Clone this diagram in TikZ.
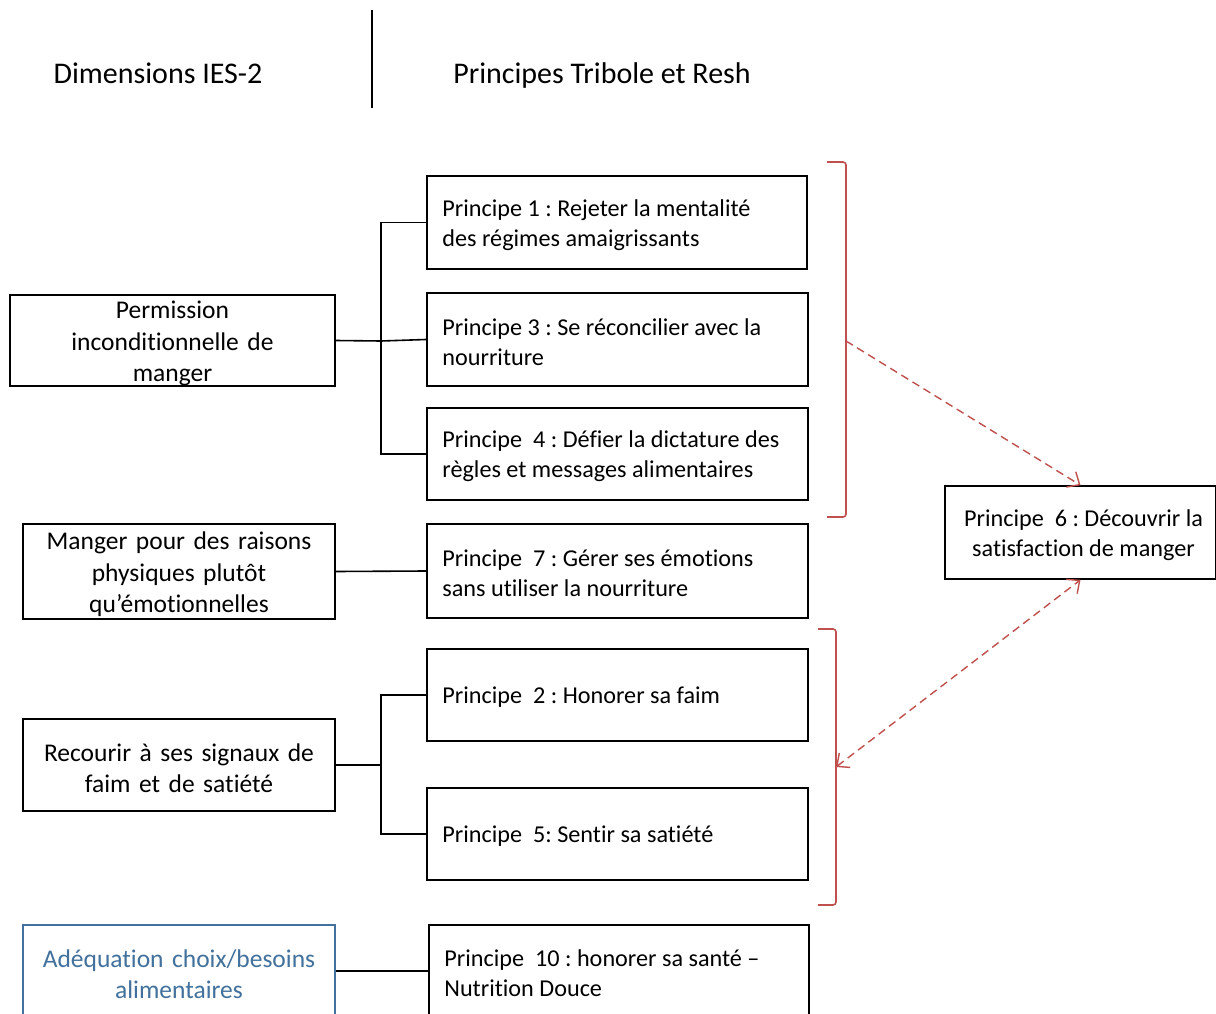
\documentclass[tikz,border=0pt]{standalone}
\usepackage{fontspec}
\setmainfont{Carlito}[RawFeature=-liga]
\usetikzlibrary{arrows.meta}
\definecolor{bred}{RGB}{192,80,77}
\definecolor{oblue}{RGB}{65,113,156}
\begin{document}
\frenchspacing
\begin{tikzpicture}[x=1pt,y=-1pt,
  box/.style={draw, line width=1.6pt, inner sep=0pt},
  ltext/.style={align=center, text width=300pt, inner sep=0pt, yshift=-3pt,
    font=\frenchspacing\fontsize{25.5}{31.5}\selectfont},
  rtext/.style={align=left, inner sep=0pt, yshift=-2.5pt, anchor=west,
    font=\frenchspacing\fontsize{24.2}{30}\selectfont},
  head/.style={font=\fontsize{30}{36}\selectfont, anchor=base},
  link/.style={line width=1.6pt},
  brk/.style={draw=bred, line width=1.6pt, rounded corners=3pt},
  tip/.tip={Straight Barb[length=10pt,width=18pt,line width=1.4pt]},
  darr/.style={draw=bred, line width=1.4pt, dash pattern=on 8pt off 5pt, -tip}
]
\clip (0,0) rectangle (1216,1014);
\fill[white] (0,0) rectangle (1216,1014);

% headers
\node[head] (h1) at (158,84) {Dimensions IES-2};
\node[head] (h2) at (602,84) {Principes Tribole et Resh};
\coordinate (s1) at (372,10);
\coordinate (s2) at (372,108);
\draw[link] (s1) -- (s2);

% left boxes
\node[box, minimum width=325pt, minimum height=91pt] (perm) at (172.5,340.5) {};
\node[ltext] (perm-t) at (perm.center) {Permission\\inconditionnelle de\\manger};
\node[box, minimum width=312pt, minimum height=95pt] (emo) at (179,571.5) {};
\node[ltext] (emo-t) at (emo.center) {Manger pour des raisons\\physiques plutôt\\qu’émotionnelles};
\node[box, minimum width=312pt, minimum height=92pt] (faim) at (179,765) {};
\node[ltext] (faim-t) at (faim.center) {Recourir à ses signaux de\\faim et de satiété};
\node[box, draw=oblue, minimum width=312pt, minimum height=92pt] (adeq) at (179,971) {};
\node[ltext, text=oblue] (adeq-t) at (adeq.center) {Adéquation choix/besoins\\alimentaires};

% right boxes
\node[box, minimum width=380pt, minimum height=93pt] (p1) at (617,222.5) {};
\node[rtext] (p1-t) at ([xshift=16pt]p1.west) {Principe 1 : Rejeter la mentalité\\des régimes amaigrissants};
\node[box, minimum width=381pt, minimum height=93pt] (p3) at (617.5,339.5) {};
\node[rtext] (p3-t) at ([xshift=16pt]p3.west) {Principe 3 : Se réconcilier avec la\\nourriture};
\node[box, minimum width=381pt, minimum height=92pt] (p4) at (617.5,454) {};
\node[rtext] (p4-t) at ([xshift=16pt]p4.west) {Principe\ \ 4 : Défier la dictature des\\règles et messages alimentaires};
\node[box, minimum width=381pt, minimum height=94pt] (p7) at (617.5,571) {};
\node[rtext] (p7-t) at ([xshift=16pt]p7.west) {Principe\ \ 7 : Gérer ses émotions\\sans utiliser la nourriture};
\node[box, minimum width=381pt, minimum height=92pt] (p2) at (617.5,695) {};
\node[rtext] (p2-t) at ([xshift=16pt]p2.west) {Principe\ \ 2 : Honorer sa faim};
\node[box, minimum width=381pt, minimum height=92pt] (p5) at (617.5,834) {};
\node[rtext] (p5-t) at ([xshift=16pt]p5.west) {Principe\ \ 5: Sentir sa satiété};
\node[box, minimum width=380pt, minimum height=92pt] (p10) at (619,971) {};
\node[rtext] (p10-t) at ([xshift=16pt]p10.west) {Principe\ \ 10 : honorer sa santé –\\Nutrition Douce};
\node[box, minimum width=271pt, minimum height=93pt] (p6) at (1080.5,532.5) {};
\node[rtext, anchor=center, align=center, yshift=-0.5pt] (p6-t) at ([xshift=3pt]p6.center) {Principe\ \ 6 : Découvrir la\\satisfaction de manger};

% tree connectors
\coordinate (j1) at (381,341);
\coordinate (j2) at (381,765);
\draw[link] (perm.east) -- (j1);
\draw[link] (p1.west) -| (j1);
\draw[link] (p3.west) -- (j1);
\draw[link] (p4.west) -| (j1);
\draw[link] (emo.east) -- (p7.west);
\draw[link] (faim.east) -- (j2);
\draw[link] (p2.west) -| (j2);
\draw[link] (p5.west) -| (j2);
\draw[link] (adeq.east) -- (p10.west);

% brackets
\coordinate (b1t) at (827,162);
\coordinate (b1b) at (827,517);
\coordinate (b1) at (846,341);
\draw[brk] (b1t) -- (846,162) -- (846,517) -- (b1b);
\coordinate (b2t) at (818,629);
\coordinate (b2b) at (818,905);
\coordinate (b2) at (836,767);
\draw[brk] (b2t) -- (836,629) -- (836,905) -- (b2b);

% dashed arrows
\draw[darr] (b1) -- (p6.north);
\draw[darr, tip-tip] (b2) -- (p6.south);
\end{tikzpicture}
\end{document}
